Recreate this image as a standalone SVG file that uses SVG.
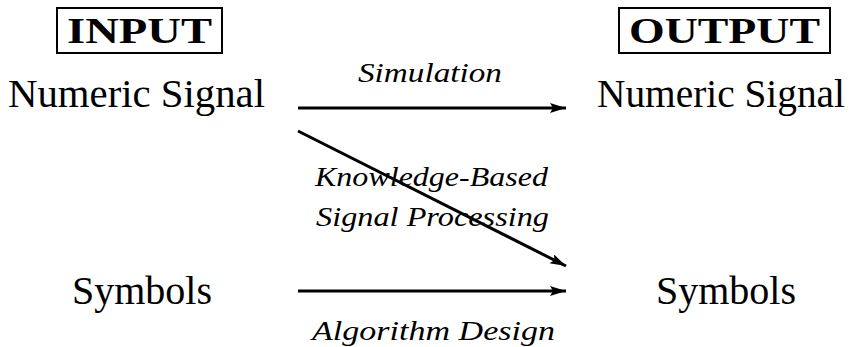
<svg xmlns="http://www.w3.org/2000/svg" width="854" height="347" viewBox="0 0 854 347" font-family="Liberation Serif">
<style>
text{fill:#000}
.n{font-size:40px}
.h{font-size:36px;font-weight:bold}
.l{font-size:27px;font-style:italic}
.box{fill:none;stroke:#000;stroke-width:2}
.c{stroke:#000;stroke-width:3;fill:none;marker-end:url(#ah)}
</style>
<defs>
<marker id="ah" markerUnits="userSpaceOnUse" markerWidth="18" markerHeight="12" refX="16" refY="5" orient="auto">
<path d="M0,0 L16,5 L0,10 L3,5 Z" fill="#000"/>
</marker>
</defs>
<g id="input">
<rect class="box" x="57" y="8" width="165" height="45"/>
<text class="h" x="67" y="43" textLength="145" lengthAdjust="spacingAndGlyphs">INPUT</text>
</g>
<g id="output">
<rect class="box" x="619" y="8" width="211" height="45"/>
<text class="h" x="629" y="43" textLength="191" lengthAdjust="spacingAndGlyphs">OUTPUT</text>
</g>
<g id="in-numeric">
<text class="n" x="8" y="107" textLength="257" lengthAdjust="spacingAndGlyphs">Numeric Signal</text>
</g>
<g id="out-numeric">
<text class="n" x="597" y="107" textLength="248" lengthAdjust="spacingAndGlyphs">Numeric Signal</text>
</g>
<g id="in-symbols">
<text class="n" x="72" y="304">Symbols</text>
</g>
<g id="out-symbols">
<text class="n" x="656" y="304">Symbols</text>
</g>
<g id="connectors">
<line class="c" x1="298" y1="108" x2="566" y2="108"/>
<line class="c" x1="298" y1="131" x2="566" y2="266"/>
<line class="c" x1="298" y1="291" x2="566" y2="291"/>
<text class="l" x="358" y="82" textLength="144" lengthAdjust="spacingAndGlyphs">Simulation</text>
<text class="l" x="315" y="186" textLength="233" lengthAdjust="spacingAndGlyphs">Knowledge-Based</text>
<text class="l" x="316" y="226" textLength="233" lengthAdjust="spacingAndGlyphs">Signal Processing</text>
<text class="l" x="312" y="340" textLength="243" lengthAdjust="spacingAndGlyphs">Algorithm Design</text>
</g>
</svg>
